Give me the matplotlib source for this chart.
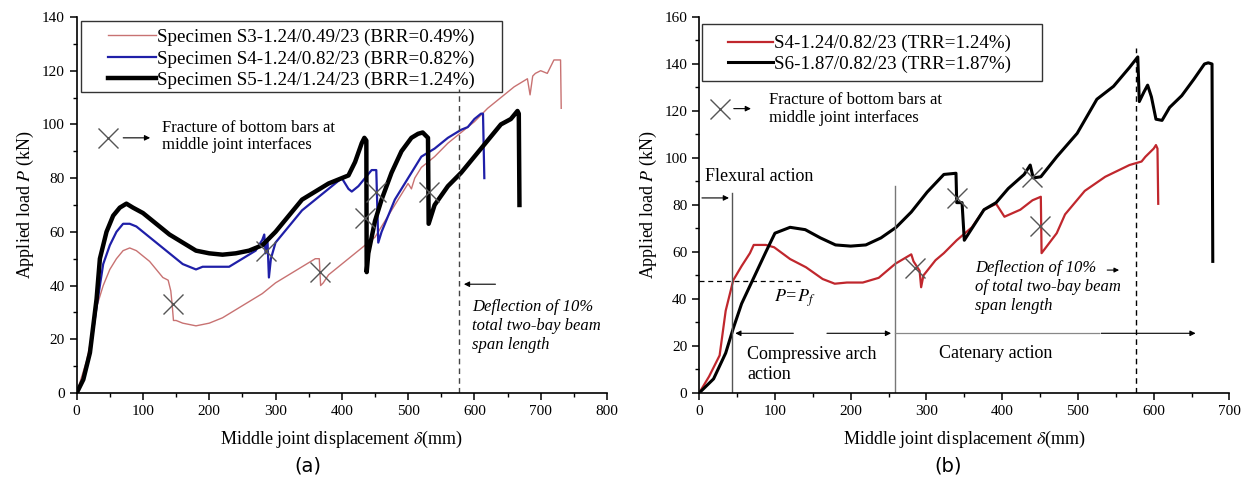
import numpy as np
import matplotlib.pyplot as plt
from matplotlib.ticker import MultipleLocator
from matplotlib.patches import Rectangle

plt.rcParams['font.family'] = ['Liberation Serif', 'DejaVu Serif']
plt.rcParams['mathtext.fontset'] = 'stix'

# ---- panel (a): effect of bottom reinforcement ratio ----
s3_x = [0, 5, 10, 15, 20, 25, 30, 40, 50, 60, 70, 80, 90, 100, 110, 120, 130, 138, 142, 144,
        146, 150, 160, 170, 180, 190, 200, 220, 240, 260, 280, 300, 320, 340, 360, 366, 368,
        372, 380, 400, 420, 440, 450, 460, 480, 500, 505, 510, 520, 540, 560, 580, 600, 620,
        640, 660, 680, 684, 688, 692, 700, 710, 716, 720, 730, 731]
s3_y = [0, 4, 8, 12, 18, 25, 32, 40, 46, 50, 53, 54, 53, 51, 49, 46, 43, 42, 38, 33,
        27, 27, 26, 25.5, 25, 25.5, 26, 28, 31, 34, 37, 41, 44, 47, 50, 50, 40,
        41, 44, 48, 52, 56, 58, 62, 70, 78, 76, 80, 84, 88, 93, 97, 101, 106,
        110, 114, 117, 111, 118, 119, 120, 119, 122, 124, 124, 106]

s4_x = [0, 10, 20, 30, 40, 50, 60, 70, 80, 90, 100, 120, 140, 160, 180, 190, 210, 230, 250,
        270, 280, 283, 285, 288, 290, 293, 300, 320, 340, 360, 380, 395, 400, 410, 415, 425,
        435, 445, 452, 455, 460, 470, 480, 495, 510, 520, 540, 560, 580, 590, 600, 610, 613, 615]
s4_y = [0, 5, 15, 32, 48, 55, 60, 63, 63, 62, 60, 56, 52, 48, 46, 47, 47, 47, 50,
        53, 57, 59, 52, 56, 43, 50, 56, 62, 68, 72, 76, 79, 80, 76, 75, 77,
        80, 83, 83, 56, 60, 66, 72, 78, 84, 88, 91, 95, 98, 99, 102, 104, 104, 80]

s5_x = [0, 10, 20, 30, 35, 45, 55, 65, 75, 85, 100, 120, 140, 160, 180, 200, 220, 240, 260,
        280, 300, 320, 340, 360, 380, 400, 410, 420, 430, 434, 437, 437.5, 440, 450, 460, 475,
        490, 505, 515, 522, 530, 531, 540, 560, 580, 600, 620, 640, 655, 665, 667, 668]
s5_y = [0, 5, 15, 35, 50, 60, 66, 69, 70.5, 69, 67, 63, 59, 56, 53, 52, 51.5, 52, 53,
        55, 60, 66, 72, 75, 78, 80, 81, 86, 93, 95, 94, 45, 52, 64, 72, 82,
        90, 95, 96.5, 97, 95, 63, 70, 77, 82, 88, 94, 100, 102, 105, 104, 70]

frac_a_x = [145, 285, 367, 435, 452, 531]
frac_a_y = [33, 53, 45, 65, 75, 75]

# ---- panel (b): effect of top reinforcement ratio ----
b_s4_x = [0, 13, 27, 35, 45, 56, 67, 72, 88, 99, 120, 141, 163, 179, 195, 216, 237, 259,
          280, 283, 291, 293, 296, 312, 323, 340, 360, 376, 392, 403, 424, 440, 451, 452,
          472, 483, 509, 536, 568, 584, 589, 600, 603, 605, 606]
b_s4_y = [0, 7, 16, 35, 48, 54, 59.5, 63, 63, 62, 57, 53.5, 48.5, 46.5, 47, 47, 49, 55,
          59, 56, 52, 45, 50, 56.5, 59.5, 65, 70.5, 78, 80.5, 75, 78, 82, 83.5, 59.5,
          68, 76, 86, 92, 97, 98.5, 100.5, 104, 105.5, 104, 80.5]

s6_x = [0, 19, 35, 45, 56, 72, 88, 100, 120, 140, 160, 180, 200, 220, 240, 260, 280, 301,
        323, 339, 340, 347, 350, 376, 392, 408, 429, 437, 441, 451, 472, 499, 525, 547,
        568, 579, 581, 587, 592, 597, 603, 611, 621, 637, 653, 667, 672, 677, 678]
s6_y = [0, 6, 17, 27.5, 38, 49, 60, 68, 70.5, 69.5, 66, 63, 62.5, 63, 66, 70.5, 77, 85.5,
        93, 93.5, 81, 81, 65, 78, 81, 87, 93, 97, 91.5, 92, 100.5, 110.5, 125, 130.5,
        138.5, 143, 124, 128, 131, 126, 116.5, 116, 121.5, 126.5, 133.5, 140, 140.5, 140, 56]

frac_b_x = [285, 340, 440, 450]
frac_b_y = [53, 83, 92, 71]

fig = plt.figure(figsize=(12.53, 4.88), dpi=100)
ax1 = fig.add_axes([0.0612, 0.1947, 0.4232, 0.7705])
ax2 = fig.add_axes([0.558, 0.1947, 0.4232, 0.7705])


def style_axes(ax, xmax, ymax):
    ax.set_xlim(0, xmax)
    ax.set_ylim(0, ymax)
    ax.spines['top'].set_visible(False)
    ax.spines['right'].set_visible(False)
    for s in ('left', 'bottom'):
        ax.spines[s].set_linewidth(1.2)
    ax.xaxis.set_major_locator(MultipleLocator(100))
    ax.xaxis.set_minor_locator(MultipleLocator(50))
    ax.yaxis.set_major_locator(MultipleLocator(20))
    ax.yaxis.set_minor_locator(MultipleLocator(10))
    ax.tick_params(which='major', direction='out', length=5, width=1.1, labelsize=11)
    ax.tick_params(which='minor', direction='out', length=3, width=1.0)
    ax.set_xlabel(r'Middle joint displacement $\delta$(mm)', fontsize=13, labelpad=8)
    ax.set_ylabel(r'Applied load $P$ (kN)', fontsize=13)


def boxed_legend(ax, anchor, box, hlen, spacing):
    leg = ax.legend(loc='upper left', bbox_to_anchor=anchor, fontsize=13.7, frameon=False,
                    handlelength=hlen, handletextpad=0.1, borderpad=0.0,
                    borderaxespad=0.0, labelspacing=spacing)
    x0, y0, x1, y1 = box
    ax.add_patch(Rectangle((x0, y0), x1 - x0, y1 - y0, transform=ax.transAxes,
                           fill=False, edgecolor='#333333', lw=1.0, zorder=5))
    return leg


# panel (a)
style_axes(ax1, 800, 140)
ax1.plot(s3_x, s3_y, color='#c87272', lw=1.0, label='Specimen S3-1.24/0.49/23 (BRR=0.49%)')
ax1.plot(s4_x, s4_y, color='#1f1fa8', lw=1.6, label='Specimen S4-1.24/0.82/23 (BRR=0.82%)')
ax1.plot(s5_x, s5_y, color='black', lw=3.2, label='Specimen S5-1.24/1.24/23 (BRR=1.24%)')
ax1.plot(frac_a_x, frac_a_y, 'x', color='#555555', ms=15, mew=1.0)
boxed_legend(ax1, (0.059, 0.969), (0.008, 0.80, 0.802, 0.99), 2.5, 0.22)

ax1.plot([47], [95], 'x', color='#555555', ms=15, mew=1.0)
ax1.annotate('', xy=(115, 95), xytext=(66, 95),
             arrowprops=dict(arrowstyle='-|>', color='black', lw=0.8, mutation_scale=8))
ax1.text(128, 95.5, 'Fracture of bottom bars at\nmiddle joint interfaces', fontsize=12,
         va='center', linespacing=1.15)
ax1.plot([577, 577], [0, 113], ls=(0, (4, 3)), color='#444444', lw=1.0)
ax1.annotate('', xy=(580, 40.5), xytext=(636, 40.5),
             arrowprops=dict(arrowstyle='-|>', color='black', lw=0.8, mutation_scale=8))
ax1.text(596, 25, 'Deflection of 10%\ntotal two-bay beam\nspan length', fontsize=12,
         style='italic', va='center', linespacing=1.25)

# panel (b)
style_axes(ax2, 700, 160)
ax2.plot(b_s4_x, b_s4_y, color='#c0272d', lw=1.6, label='S4-1.24/0.82/23 (TRR=1.24%)')
ax2.plot(s6_x, s6_y, color='black', lw=2.2, label='S6-1.87/0.82/23 (TRR=1.87%)')
ax2.plot(frac_b_x, frac_b_y, 'x', color='#555555', ms=15, mew=1.0)
boxed_legend(ax2, (0.054, 0.952), (0.0045, 0.83, 0.646, 0.981), 2.35, 0.18)

ax2.plot([27], [121], 'x', color='#555555', ms=15, mew=1.0)
ax2.annotate('', xy=(72, 121), xytext=(42, 121),
             arrowprops=dict(arrowstyle='-|>', color='black', lw=0.8, mutation_scale=8))
ax2.text(92, 121, 'Fracture of bottom bars at\nmiddle joint interfaces', fontsize=12,
         va='center', linespacing=1.15)

ax2.plot([43, 43], [0, 85], color='#555555', lw=1.0)
ax2.plot([258, 258], [0, 88], color='#777777', lw=1.0)
ax2.plot([576, 576], [0, 147], ls=(0, (4, 3)), color='black', lw=1.0)
ax2.plot([0, 139], [47.5, 47.5], ls=(0, (4, 3)), color='black', lw=0.9)
ax2.text(8, 92, 'Flexural action', fontsize=13, va='center')
ax2.annotate('', xy=(43, 83), xytext=(0, 83),
             arrowprops=dict(arrowstyle='-|>', color='black', lw=0.8, mutation_scale=8))
ax2.text(99, 40.5, r'$P$=$P_f$', fontsize=13, va='center', style='italic')

ax2.annotate('', xy=(44, 25.4), xytext=(128, 25.4),
             arrowprops=dict(arrowstyle='-|>', color='black', lw=0.8, mutation_scale=8))
ax2.annotate('', xy=(257, 25.4), xytext=(165, 25.4),
             arrowprops=dict(arrowstyle='-|>', color='black', lw=0.8, mutation_scale=8))
ax2.plot([258, 528], [25.4, 25.4], color='#888888', lw=0.9)
ax2.annotate('', xy=(659, 25.4), xytext=(527, 25.4),
             arrowprops=dict(arrowstyle='-|>', color='black', lw=0.8, mutation_scale=8))
ax2.text(63, 12, 'Compressive arch\naction', fontsize=13, va='center', linespacing=1.25)
ax2.text(317, 16.7, 'Catenary action', fontsize=13, va='center')

ax2.text(364, 45, 'Deflection of 10%\nof total two-bay beam\nspan length', fontsize=12,
         style='italic', va='center', linespacing=1.25)
ax2.annotate('', xy=(558, 52.3), xytext=(535, 52.3),
             arrowprops=dict(arrowstyle='-|>', color='black', lw=0.8, mutation_scale=7))

fig.text(0.246, 0.045, '(a)', fontsize=14, family='DejaVu Sans', ha='center', va='center')
fig.text(0.757, 0.045, '(b)', fontsize=14, family='DejaVu Sans', ha='center', va='center')

fig.savefig('out.png', dpi=100)
